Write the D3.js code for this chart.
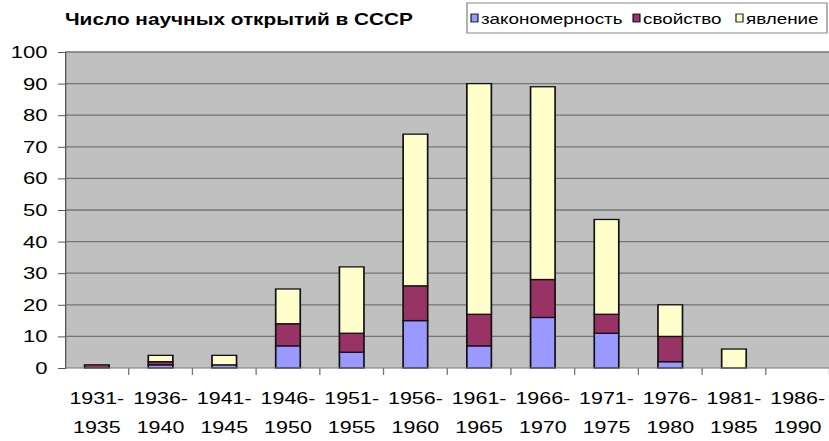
<!DOCTYPE html>
<html>
<head>
<meta charset="utf-8">
<script src="https://cdn.jsdelivr.net/npm/d3@7"></script>
<style>
  body { margin: 0; background: #fff; }
  svg { display: block; }
  text { font-family: "Liberation Sans", Arial, sans-serif; fill: #000; }
</style>
</head>
<body>
<svg id="chart"></svg>
<script>
// data
const periods = ["1931-1935","1936-1940","1941-1945","1946-1950","1951-1955","1956-1960",
                 "1961-1965","1966-1970","1971-1975","1976-1980","1981-1985","1986-1990"];
const zakonomernost = [0, 1, 1, 7, 5, 15, 7, 16, 11, 2, 0, 0];
const svoistvo      = [1, 1, 0, 7, 6, 11, 10, 12, 6, 8, 0, 0];
const yavlenie      = [0, 2, 3, 11, 21, 48, 73, 61, 30, 10, 6, 0];
const seriesNames = ["закономерность", "свойство", "явление"];
const seriesColors = ["#9999ff", "#993366", "#ffffcc"];
const yTicks = d3.range(0, 101, 10);

// the original is a bit stretched sideways, so draw in narrower units and stretch
const SX = 1.3;
const W = 829, H = 441;

const svg = d3.select("#chart")
    .attr("width", W)
    .attr("height", H)
    .attr("viewBox", "0 0 " + (W / SX) + " " + H)
    .attr("preserveAspectRatio", "none");

const plot = { left: 65 / SX, right: 829.5 / SX, top: 52, bottom: 368 };

const rows = periods.map((p, i) => ({
    period: p,
    "закономерность": zakonomernost[i],
    "свойство": svoistvo[i],
    "явление": yavlenie[i]
}));
const stacked = d3.stack().keys(seriesNames)(rows);

const x = d3.scaleBand()
    .domain(periods)
    .range([plot.left, plot.right])
    .paddingInner(0.615)
    .paddingOuter(0.3075);

const y = d3.scaleLinear().domain([0, 100]).range([plot.bottom, plot.top]);

// plot background
svg.append("rect")
    .attr("x", plot.left).attr("y", plot.top)
    .attr("width", plot.right - plot.left).attr("height", plot.bottom - plot.top)
    .attr("fill", "#c0c0c0");

// gridlines
svg.append("g")
    .selectAll("line")
    .data(yTicks.filter(d => d > 0))
    .join("line")
    .attr("x1", plot.left).attr("x2", plot.right)
    .attr("y1", d => y(d)).attr("y2", d => y(d))
    .attr("stroke", "#757575")
    .attr("stroke-width", 1.3);

// bars
const colors = d3.scaleOrdinal().domain(seriesNames).range(seriesColors);
svg.append("g")
    .selectAll("g")
    .data(stacked)
    .join("g")
    .attr("fill", d => colors(d.key))
    .selectAll("rect")
    .data(d => d.filter(s => s[1] - s[0] > 0))
    .join("rect")
    .attr("x", d => x(d.data.period))
    .attr("width", x.bandwidth())
    .attr("y", d => y(d[1]))
    .attr("height", d => y(d[0]) - y(d[1]))
    .attr("stroke", "#111")
    .attr("stroke-width", 1.3);

// y axis
const yAxis = svg.append("g")
    .attr("transform", "translate(" + plot.left + ",0)")
    .call(d3.axisLeft(y).tickValues(yTicks).tickSize(7 / SX).tickPadding(8));
yAxis.select(".domain").attr("stroke", "#555");
yAxis.selectAll(".tick line").attr("stroke", "#555");
yAxis.selectAll("text")
    .style("font-size", "17px")
    .attr("fill", "#000");

// x axis baseline and ticks between categories
svg.append("line")
    .attr("x1", plot.left).attr("x2", plot.right)
    .attr("y1", plot.bottom).attr("y2", plot.bottom)
    .attr("stroke", "#777");

const step = x.step();
svg.append("g")
    .selectAll("line")
    .data(d3.range(1, periods.length + 1))
    .join("line")
    .attr("x1", i => plot.left + i * step).attr("x2", i => plot.left + i * step)
    .attr("y1", plot.bottom).attr("y2", plot.bottom + 7)
    .attr("stroke", "#777");

// x labels, two lines each
const xl = svg.append("g")
    .selectAll("text")
    .data(periods)
    .join("text")
    .attr("text-anchor", "middle")
    .style("font-size", "16.5px");
xl.append("tspan")
    .attr("x", d => x(d) + x.bandwidth() / 2)
    .attr("y", 404)
    .text(d => d.split("-")[0] + "-");
xl.append("tspan")
    .attr("x", d => x(d) + x.bandwidth() / 2)
    .attr("y", 433)
    .text(d => d.split("-")[1]);

// title
svg.append("text")
    .attr("x", 65 / SX)
    .attr("y", 25)
    .style("font-size", "16px")
    .style("font-weight", "bold")
    .text("Число научных открытий в СССР");

// legend
const legend = svg.append("g");
legend.append("rect")
    .attr("x", 467 / SX).attr("y", 3)
    .attr("width", (827 - 467) / SX).attr("height", 30)
    .attr("fill", "#fff")
    .attr("stroke", "#888")
    .attr("stroke-width", 1);

const legendX = [471, 633, 736];
const item = legend.selectAll("g.item")
    .data(seriesNames)
    .join("g")
    .attr("class", "item")
    .attr("transform", (d, i) => "translate(" + (legendX[i] / SX) + ",0)");
item.append("rect")
    .attr("x", 0).attr("y", 14)
    .attr("width", 7 / SX).attr("height", 8)
    .attr("fill", d => colors(d))
    .attr("stroke", "#000")
    .attr("stroke-width", 0.8);
item.append("text")
    .attr("x", 10 / SX)
    .attr("y", 24)
    .style("font-size", "14.5px")
    .text(d => d);
</script>
</body>
</html>
